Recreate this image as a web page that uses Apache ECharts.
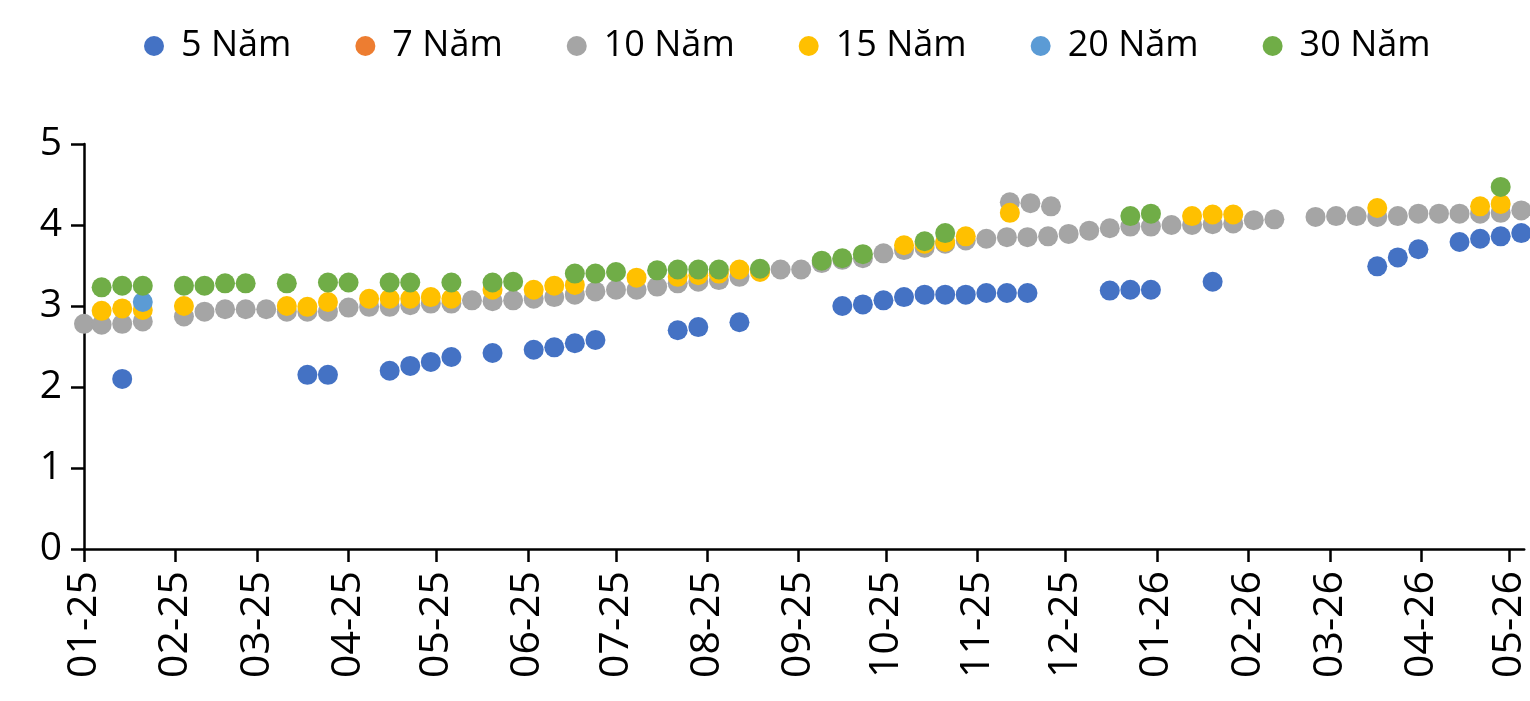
<!DOCTYPE html>
<html>
<head>
<meta charset="utf-8">
<script src="https://cdn.jsdelivr.net/npm/echarts@6/dist/echarts.min.js"></script>
<style>
  html, body { margin: 0; padding: 0; background: #fff; }
  #chart { width: 1530px; height: 701px; }
</style>
</head>
<body>
<div id="chart"></div>
<script>
// truc ngay: tu 01/01/2025 den 06/05/2026
const startDay = "2025-01-01";
const endDay = "2026-05-06";
const yTicks = [0, 1, 2, 3, 4, 5];

const seriesNames = ["5 Năm", "7 Năm", "10 Năm", "15 Năm", "20 Năm", "30 Năm"];
const seriesColors = ["#4472C4", "#ED7D31", "#A5A5A5", "#FFC000", "#5B9BD5", "#70AD47"];

const y5 = [
  ["2025-01-14", 2.10], ["2025-03-18", 2.15], ["2025-03-25", 2.15], ["2025-04-15", 2.20],
  ["2025-04-22", 2.26], ["2025-04-29", 2.31], ["2025-05-06", 2.37], ["2025-05-20", 2.42],
  ["2025-06-03", 2.46], ["2025-06-10", 2.49], ["2025-06-17", 2.54], ["2025-06-24", 2.58],
  ["2025-07-22", 2.70], ["2025-07-29", 2.74], ["2025-08-12", 2.80], ["2025-09-16", 3.00],
  ["2025-09-23", 3.02], ["2025-09-30", 3.07], ["2025-10-07", 3.11], ["2025-10-14", 3.14],
  ["2025-10-21", 3.14], ["2025-10-28", 3.14], ["2025-11-04", 3.16], ["2025-11-11", 3.16],
  ["2025-11-18", 3.16], ["2025-12-16", 3.19], ["2025-12-23", 3.20], ["2025-12-30", 3.20],
  ["2026-01-20", 3.30], ["2026-03-17", 3.49], ["2026-03-24", 3.60], ["2026-03-31", 3.70],
  ["2026-04-14", 3.79], ["2026-04-21", 3.83], ["2026-04-28", 3.86], ["2026-05-05", 3.90]
];
const y7 = [];
const y10 = [
  ["2025-01-01", 2.78], ["2025-01-07", 2.77], ["2025-01-14", 2.78], ["2025-01-21", 2.81],
  ["2025-02-04", 2.87], ["2025-02-11", 2.93], ["2025-02-18", 2.96], ["2025-02-25", 2.96],
  ["2025-03-04", 2.96], ["2025-03-11", 2.93], ["2025-03-18", 2.93], ["2025-03-25", 2.93],
  ["2025-04-01", 2.98], ["2025-04-08", 2.99], ["2025-04-15", 2.99], ["2025-04-22", 3.01],
  ["2025-04-29", 3.03], ["2025-05-06", 3.03], ["2025-05-13", 3.07], ["2025-05-20", 3.06],
  ["2025-05-27", 3.07], ["2025-06-03", 3.09], ["2025-06-10", 3.11], ["2025-06-17", 3.14],
  ["2025-06-24", 3.18], ["2025-07-01", 3.20], ["2025-07-08", 3.20], ["2025-07-15", 3.24],
  ["2025-07-22", 3.28], ["2025-07-29", 3.30], ["2025-08-05", 3.32], ["2025-08-12", 3.36],
  ["2025-08-19", 3.44], ["2025-08-26", 3.45], ["2025-09-02", 3.45], ["2025-09-09", 3.53],
  ["2025-09-16", 3.57], ["2025-09-23", 3.59], ["2025-09-30", 3.65], ["2025-10-07", 3.69],
  ["2025-10-14", 3.72], ["2025-10-21", 3.77], ["2025-10-28", 3.81], ["2025-11-04", 3.83],
  ["2025-11-11", 3.85], ["2025-11-12", 4.28], ["2025-11-18", 3.85], ["2025-11-19", 4.27],
  ["2025-11-25", 3.86], ["2025-11-26", 4.23], ["2025-12-02", 3.89], ["2025-12-09", 3.93],
  ["2025-12-16", 3.96], ["2025-12-23", 3.98], ["2025-12-30", 3.98], ["2026-01-06", 4.00],
  ["2026-01-13", 4.00], ["2026-01-20", 4.01], ["2026-01-27", 4.02], ["2026-02-03", 4.06],
  ["2026-02-10", 4.07], ["2026-02-24", 4.10], ["2026-03-03", 4.11], ["2026-03-10", 4.11],
  ["2026-03-17", 4.10], ["2026-03-24", 4.11], ["2026-03-31", 4.14], ["2026-04-07", 4.14],
  ["2026-04-14", 4.14], ["2026-04-21", 4.14], ["2026-04-28", 4.15], ["2026-05-05", 4.18]
];
const y15 = [
  ["2025-01-07", 2.94], ["2025-01-14", 2.97], ["2025-01-21", 2.95], ["2025-02-04", 3.00],
  ["2025-03-11", 3.00], ["2025-03-18", 2.99], ["2025-03-25", 3.05], ["2025-04-08", 3.09],
  ["2025-04-15", 3.09], ["2025-04-22", 3.09], ["2025-04-29", 3.11], ["2025-05-06", 3.09],
  ["2025-05-20", 3.20], ["2025-06-03", 3.20], ["2025-06-10", 3.25], ["2025-06-17", 3.26],
  ["2025-07-08", 3.35], ["2025-07-22", 3.36], ["2025-07-29", 3.38], ["2025-08-05", 3.40],
  ["2025-08-12", 3.45], ["2025-08-19", 3.42], ["2025-10-07", 3.75], ["2025-10-14", 3.77],
  ["2025-10-21", 3.79], ["2025-10-28", 3.86], ["2025-11-12", 4.15], ["2026-01-13", 4.11],
  ["2026-01-20", 4.13], ["2026-01-27", 4.13], ["2026-03-17", 4.21], ["2026-04-21", 4.23],
  ["2026-04-28", 4.26]
];
const y20 = [["2025-01-21", 3.05]];
const y30 = [
  ["2025-01-07", 3.23], ["2025-01-14", 3.25], ["2025-01-21", 3.25], ["2025-02-04", 3.25],
  ["2025-02-11", 3.25], ["2025-02-18", 3.28], ["2025-02-25", 3.28], ["2025-03-11", 3.28],
  ["2025-03-25", 3.29], ["2025-04-01", 3.29], ["2025-04-15", 3.29], ["2025-04-22", 3.29],
  ["2025-05-06", 3.29], ["2025-05-20", 3.29], ["2025-05-27", 3.30], ["2025-06-17", 3.40],
  ["2025-06-24", 3.40], ["2025-07-01", 3.42], ["2025-07-15", 3.44], ["2025-07-22", 3.45],
  ["2025-07-29", 3.45], ["2025-08-05", 3.45], ["2025-08-19", 3.46], ["2025-09-09", 3.56],
  ["2025-09-16", 3.59], ["2025-09-23", 3.64], ["2025-10-14", 3.80], ["2025-10-21", 3.90],
  ["2025-12-23", 4.11], ["2025-12-30", 4.14], ["2026-04-28", 4.47]
];

// danh sach ngay cho truc hoanh (category theo ngay)
const days = [];
for (let t = Date.parse(startDay); t <= Date.parse(endDay); t += 86400000) {
  days.push(new Date(t).toISOString().slice(0, 10));
}
const isMonthStart = (idx, val) => val.slice(8) === "01";

const font = "'Open Sans', sans-serif";
const chart = echarts.init(document.getElementById("chart"));

const option = {
  animation: false,
  backgroundColor: "#fff",
  color: seriesColors,
  legend: {
    data: seriesNames,
    left: 139,
    top: 23,
    icon: "circle",
    itemWidth: 20,
    itemHeight: 20,
    itemGap: 64,
    textStyle: {
      fontFamily: font,
      fontSize: 36,
      color: "#000",
      padding: [0, 0, 0, 12]
    }
  },
  grid: {
    left: 84,
    right: 0,
    top: 144,
    bottom: 152,
    containLabel: false
  },
  xAxis: {
    type: "category",
    data: days,
    boundaryGap: false,
    axisLine: { lineStyle: { color: "#000", width: 2.5 } },
    axisTick: { show: true, interval: isMonthStart, length: 13, lineStyle: { color: "#000", width: 2.5 } },
    axisLabel: {
      interval: isMonthStart,
      rotate: 90,
      margin: 22,
      fontFamily: font,
      fontSize: 41,
      color: "#000",
      formatter: (v) => v.slice(5, 7) + "-" + v.slice(2, 4)
    },
    splitLine: { show: false }
  },
  yAxis: {
    type: "value",
    min: yTicks[0],
    max: yTicks[yTicks.length - 1],
    interval: 1,
    axisLine: { show: true, lineStyle: { color: "#000", width: 2.5 } },
    axisTick: { show: true, length: 13, lineStyle: { color: "#000", width: 2.5 } },
    axisLabel: { margin: 22, fontFamily: font, fontSize: 39, color: "#000" },
    splitLine: { show: false }
  },
  series: [y5, y7, y10, y15, y20, y30].map((d, i) => ({
    name: seriesNames[i],
    type: "scatter",
    data: d,
    symbol: "circle",
    symbolSize: 20,
    itemStyle: { color: seriesColors[i], opacity: 1 }
  }))
};

chart.setOption(option);
window.addEventListener("resize", () => {
  chart.resize();
});
</script>
</body>
</html>
